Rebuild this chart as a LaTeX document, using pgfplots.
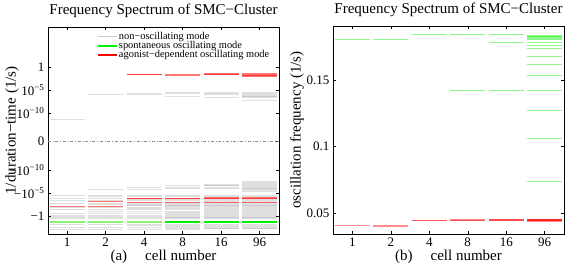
\documentclass[border=0pt]{standalone}
\usepackage{fontspec}
\setmainfont{Liberation Serif}
\usepackage{pgfplots}
\usepackage{pgfplotstable}
\pgfplotsset{compat=1.18}

\definecolor{mgray}{rgb}{0.55,0.55,0.55}
\definecolor{mgreen}{rgb}{0,0.95,0}
\definecolor{lgreen}{rgb}{0.55,0.95,0.45}
\definecolor{mred}{rgb}{1,0,0}

% left panel: y in display units d = sign(v)*(log10|v|+16.2)
\pgfplotstableread[row sep=\\]{
x y\\
1 4.7\\ 1 -11.8\\ 1 -12.3\\ 1 -12.9\\ 1 -13.4\\ 1 -14.3\\ 1 -14.85\\ 1 -15.6\\ 1 -16.0\\ 1 -16.3\\ 1 -16.4\\ 1 -16.8\\ 1 -18.1\\ 1 -18.6\\ 1 -19.05\\
2 10.3\\ 2 -10.35\\ 2 -11.8\\ 2 -12.0\\ 2 -12.3\\ 2 -12.9\\ 2 -13.4\\ 2 -13.7\\ 2 -14.3\\ 2 -14.85\\ 2 -15.2\\ 2 -15.6\\ 2 -16.0\\ 2 -16.3\\ 2 -16.4\\ 2 -16.8\\ 2 -18.1\\ 2 -18.6\\ 2 -19.05\\
3 10.5\\ 3 10.15\\ 3 -9.9\\ 3 -10.35\\ 3 -11.8\\ 3 -12.0\\ 3 -12.6\\ 3 -12.9\\ 3 -13.4\\ 3 -13.6\\ 3 -13.8\\ 3 -14.0\\ 3 -14.3\\ 3 -14.5\\ 3 -14.85\\ 3 -15.2\\ 3 -15.6\\ 3 -16.0\\ 3 -16.2\\ 3 -16.4\\ 3 -16.8\\ 3 -18.1\\ 3 -18.3\\ 3 -18.6\\ 3 -19.05\\
4 10.6\\ 4 10.4\\ 4 9.9\\ 4 -9.6\\ 4 -9.9\\ 4 -10.2\\ 4 -11.8\\ 4 -12.0\\ 4 -12.6\\ 4 -12.9\\ 4 -13.2\\ 4 -13.4\\ 4 -13.6\\ 4 -13.8\\ 4 -14.0\\ 4 -14.2\\ 4 -14.4\\ 4 -14.6\\ 4 -14.85\\ 4 -15.2\\ 4 -15.4\\ 4 -15.6\\ 4 -15.8\\ 4 -16.0\\ 4 -16.2\\ 4 -16.4\\ 4 -16.6\\ 4 -16.8\\ 4 -18.0\\ 4 -18.2\\ 4 -18.4\\ 4 -18.6\\ 4 -18.8\\ 4 -19.05\\
5 10.7\\ 5 10.5\\ 5 10.3\\ 5 9.65\\ 5 -9.25\\ 5 -9.45\\ 5 -9.65\\ 5 -9.9\\ 5 -10.1\\ 5 -11.8\\ 5 -12.0\\ 5 -12.6\\ 5 -12.8\\ 5 -13.0\\ 5 -13.2\\ 5 -13.4\\ 5 -13.6\\ 5 -13.8\\ 5 -14.0\\ 5 -14.2\\ 5 -14.4\\ 5 -14.6\\ 5 -14.8\\ 5 -15.0\\ 5 -15.2\\ 5 -15.4\\ 5 -15.6\\ 5 -15.8\\ 5 -16.0\\ 5 -16.2\\ 5 -16.4\\ 5 -16.6\\ 5 -16.8\\ 5 -18.0\\ 5 -18.2\\ 5 -18.4\\ 5 -18.6\\ 5 -18.8\\ 5 -19.0\\
6 10.7\\ 6 10.5\\ 6 10.3\\ 6 10.1\\ 6 9.9\\ 6 9.7\\ 6 9.5\\ 6 8.9\\ 6 -8.7\\ 6 -8.9\\ 6 -9.1\\ 6 -9.3\\ 6 -9.5\\ 6 -9.7\\ 6 -9.9\\ 6 -10.1\\ 6 -10.3\\ 6 -10.5\\ 6 -10.7\\ 6 -10.9\\ 6 -11.8\\ 6 -12.0\\ 6 -12.6\\ 6 -12.8\\ 6 -13.0\\ 6 -13.2\\ 6 -13.4\\ 6 -13.6\\ 6 -13.8\\ 6 -14.0\\ 6 -14.2\\ 6 -14.4\\ 6 -14.6\\ 6 -14.8\\ 6 -15.0\\ 6 -15.2\\ 6 -15.4\\ 6 -15.6\\ 6 -15.8\\ 6 -16.0\\ 6 -16.2\\ 6 -16.4\\ 6 -16.6\\ 6 -16.8\\ 6 -18.0\\ 6 -18.2\\ 6 -18.4\\ 6 -18.6\\ 6 -18.8\\ 6 -19.0\\
}\leftgray

\pgfplotstableread[row sep=\\]{
x y\\
1 -14.05\\
2 -12.95\\ 2 -14.1\\
3 14.5\\ 3 14.5\\ 3 -12.3\\ 3 -12.3\\ 3 -13.25\\
4 14.6\\ 4 14.3\\ 4 -12.3\\ 4 -12.3\\ 4 -13.25\\
5 14.7\\ 5 14.6\\ 5 14.5\\ 5 -12.3\\ 5 -12.3\\ 5 -12.2\\ 5 -13.25\\
6 14.75\\ 6 14.6\\ 6 14.45\\ 6 14.3\\ 6 14.15\\ 6 -12.2\\ 6 -12.3\\ 6 -12.4\\ 6 -13.25\\
}\leftred

% spontaneous mode, left panel: light (few modes) and bright (many modes)
\pgfplotstableread[row sep=\\]{
x y\\
1 -17.4\\ 1 -17.5\\ 2 -17.4\\ 2 -17.5\\ 3 -17.4\\ 3 -17.5\\
}\leftgreenlight
\pgfplotstableread[row sep=\\]{
x y\\
4 -17.4\\ 4 -17.5\\ 5 -17.4\\ 5 -17.5\\ 6 -17.4\\ 6 -17.5\\ 6 -17.3\\ 6 -17.6\\
}\leftgreen

% right panel: oscillation frequency (1/s)
\pgfplotstableread[row sep=\\]{
x y\\
1 0.1805\\ 2 0.1805\\ 3 0.1838\\
4 0.1838\\ 4 0.1425\\
5 0.1838\\ 5 0.1780\\ 5 0.1425\\
6 0.1836\\ 6 0.1830\\ 6 0.1824\\ 6 0.1818\\ 6 0.1812\\ 6 0.1806\\ 6 0.1782\\ 6 0.1760\\ 6 0.1733\\ 6 0.1680\\ 6 0.1618\\ 6 0.1532\\ 6 0.1425\\ 6 0.1275\\ 6 0.1065\\ 6 0.0737\\
}\rightgreen

\pgfplotstableread[row sep=\\]{
x y\\
1 0.0410\\
2 0.0405\\ 2 0.0409\\
3 0.0450\\ 3 0.0450\\
4 0.0452\\ 4 0.0447\\ 4 0.0449\\
5 0.0454\\ 5 0.0450\\ 5 0.0447\\ 5 0.0452\\
6 0.0455\\ 6 0.0452\\ 6 0.0449\\ 6 0.0446\\ 6 0.0443\\ 6 0.0440\\ 6 0.0452\\ 6 0.0446\\
}\rightred

\pgfplotsset{
  seg/.style={draw=none, mark=none, forget plot,
    error bars/.cd, x dir=both, x fixed=0.45, error mark=none,
    error bar style={line width=0.9pt, #1}},
  mylegend/.style={legend image code/.code={\draw[line width=1.6pt,##1] (0pt,0pt) -- (19pt,0pt);}},
  panel/.style={
    scale only axis, width=231pt,
    xmin=0.5, xmax=6.5, xtick={1,2,3,4,5,6}, xticklabels={1,2,4,8,16,96},
    tick align=inside, major tick length=3pt,
    tick style={black, line width=0.5pt},
    axis line style={line width=0.8pt},
    tick label style={font=\fontsize{13}{13}\selectfont},
    label style={font=\fontsize{15}{15}\selectfont},
    every axis title/.style={at={(axis description cs:0.5,1.08)}, anchor=center, font=\fontsize{15}{15}\selectfont},
    xlabel style={at={(axis description cs:0.5,-0.11)}, anchor=center},
    ylabel style={at={(axis description cs:-0.156,0.5)}, anchor=center},
  }
}

\begin{document}
\begin{tikzpicture}
\useasboundingbox (0,0) rectangle (579pt,267pt);
\begin{axis}[panel, height=207pt, at={(48pt,33pt)}, anchor=south west,
  ymin=-20.1, ymax=24.9,
  ytick={-16.2,-11.2,-6.2,0,6.2,11.2,16.2},
  yticklabels={−1,−10\textsuperscript{−5},−10\textsuperscript{−10},0,10\textsuperscript{−10},10\textsuperscript{−5},1},
  title={Frequency Spectrum of SMC−Cluster},
  xlabel={(a)\hspace{1.2em}cell number},
  ylabel={1/duration−time (1/s)},
  mylegend,
  legend style={draw=none, fill=none, at={(axis description cs:0.2,0.99)}, anchor=north west,
    font=\fontsize{10.4}{10.4}\selectfont, row sep=-1.5pt, nodes={inner sep=1pt}},
  legend cell align=left,
]
\addplot[mgray, dash dot, line width=0.5pt, forget plot] coordinates {(0.5,0) (6.5,0)};
\addplot[seg={draw=mgray, draw opacity=0.28}] table[x=x, y=y] {\leftgray};
\addplot[seg={draw=mred, draw opacity=0.55}] table[x=x, y=y] {\leftred};
\addplot[seg={draw=lgreen, line width=0.9pt}] table[x=x, y=y] {\leftgreenlight};
\addplot[seg={draw=mgreen, line width=0.9pt}] table[x=x, y=y] {\leftgreen};
\addlegendimage{draw=black!20}
\addlegendentry{non−oscillating mode}
\addlegendimage{draw=mgreen}
\addlegendentry{spontaneous oscillating mode}
\addlegendimage{draw=mred}
\addlegendentry{agonist−dependent oscillating mode}
\end{axis}

\begin{axis}[panel, height=208pt, at={(333pt,33pt)}, anchor=south west,
  ymin=0.0345, ymax=0.1905,
  ytick={0.05,0.1,0.15}, yticklabels={0.05,0.1,0.15},
  title={Frequency Spectrum of SMC−Cluster},
  xlabel={(b)\hspace{1.2em}cell number},
  ylabel={oscillation frequency (1/s)},
]
\addplot[seg={draw=mgreen, draw opacity=0.45}] table[x=x, y=y] {\rightgreen};
\addplot[seg={draw=mred, draw opacity=0.45}] table[x=x, y=y] {\rightred};
\end{axis}
\end{tikzpicture}
\end{document}
